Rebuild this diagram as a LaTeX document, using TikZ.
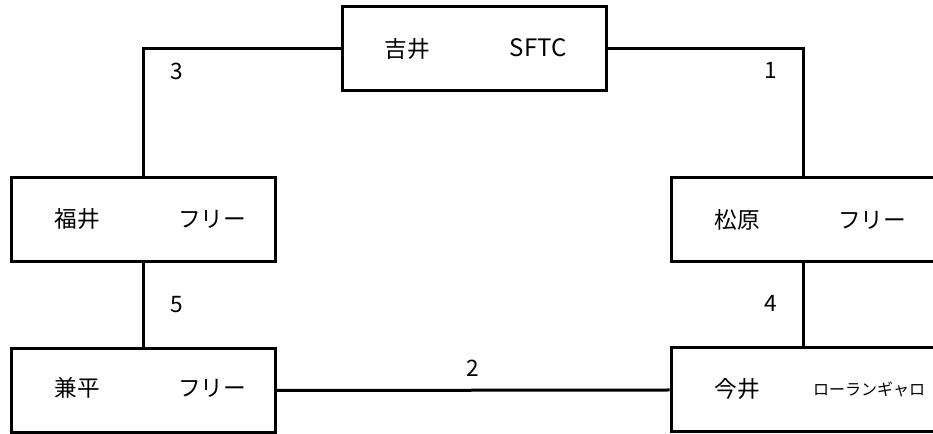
\documentclass[tikz,border=0pt]{standalone}
\usepackage{fontspec}
\setmainfont{Noto Sans CJK JP}

\begin{document}
\begin{tikzpicture}[x=0.75pt,y=-0.75pt,line width=2.25pt,
  player/.style={draw,rectangle,minimum width=198pt,minimum height=63pt,inner sep=0pt},
  txt/.style={font=\fontsize{17}{20}\selectfont,inner sep=0pt},
  small/.style={font=\fontsize{12}{14}\selectfont,inner sep=0pt}]
				\useasboundingbox (0,0) rectangle (933,434);

				\node[player] (yoshii) at (474.5,49) {};
				\node[player] (fukui) at (143.5,220) {};
				\node[player] (matsubara) at (803,220) {};
				\node[player] (kanehira) at (143.5,390.5) {};
				\node[player] (imai) at (803,390) {};

				\node[txt] (yoshiiname) at (407.5,49) {吉井};
				\node[txt,font=\fontsize{18}{21}\selectfont] (yoshiiteam) at (538,48) {SFTC};
				\node[txt] (fukuiname) at (77.5,219) {福井};
				\node[txt] (fukuiteam) at (212,219) {フリー};
				\node[txt] (matsubaraname) at (737.5,220) {松原};
				\node[txt] (matsubarateam) at (872,220) {フリー};
				\node[txt] (kanehiraname) at (77.5,388) {兼平};
				\node[txt] (kanehirateam) at (212,388) {フリー};
				\node[txt] (imainame) at (737.5,389) {今井};
				\node[small] (imaiteam) at (869,389) {ローランギャロ};

				\draw (yoshii.west) -| (fukui.north);
				\draw (yoshii.east) -| (matsubara.north);
				\draw (fukui.south) -- (kanehira.north);
				\draw (matsubara.south) -- (imai.north);
				\draw (kanehira.east) -- (imai.west);

				\node[txt] (three) at (177,71) {3};
				\node[txt] (one) at (771,70) {1};
				\node[txt] (five) at (177,305) {5};
				\node[txt] (four) at (771,303) {4};
				\node[txt] (two) at (473,368) {2};
			\end{tikzpicture}
\end{document}
